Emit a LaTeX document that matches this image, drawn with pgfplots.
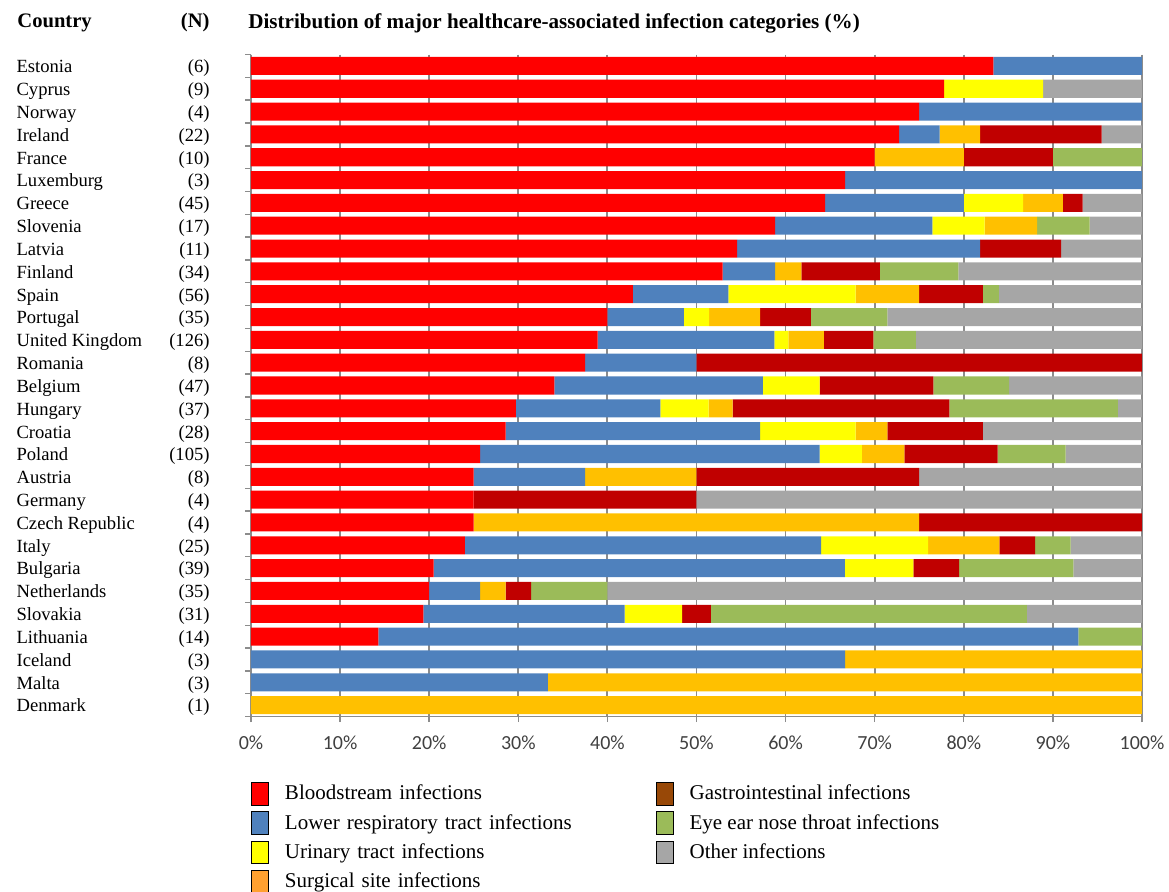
\documentclass[border=0pt]{standalone}
\usepackage{pgfplots}
\pgfplotsset{compat=1.18}
\usepackage{pgfplotstable}
\usepackage{fontspec}
\setmainfont{Liberation Serif}
\newfontfamily\tickfont{Carlito}

\definecolor{cBSI}{HTML}{FF0000}
\definecolor{cLRTI}{HTML}{4F81BD}
\definecolor{cUTI}{HTML}{FFFF00}
\definecolor{cSSI}{HTML}{FFC000}
\definecolor{cGI}{HTML}{C00000}
\definecolor{cEENT}{HTML}{9BBB59}
\definecolor{cOTH}{HTML}{A6A6A6}
\definecolor{lSSI}{HTML}{FFA030}
\definecolor{lGI}{HTML}{984807}
\definecolor{gridc}{HTML}{8C8C8C}

\newcommand{\lab}[2]{\makebox[96.5pt]{#1\hfill#2}}

\pgfplotstableread{
y  bsi   lrti  uti   ssi    gi    eent  oth
0  83.33 16.67 0     0      0     0     0
1  77.78 0     11.11 0      0     0     11.11
2  75    25    0     0      0     0     0
3  72.73 4.55  0     4.55   13.64 0     4.53
4  70    0     0     10     10    10    0
5  66.67 33.33 0     0      0     0     0
6  64.44 15.56 6.67  4.44   2.22  0     6.67
7  58.82 17.65 5.88  5.88   0     5.88  5.89
8  54.55 27.27 0     0      9.09  0     9.09
9  52.94 5.88  0     2.94   8.82  8.82  20.60
10 42.86 10.71 14.29 7.14   7.14  1.79  16.07
11 40    8.57  2.86  5.71   5.71  8.57  28.58
12 38.89 19.84 1.59  3.97   5.56  4.76  25.39
13 37.5  12.5  0     0      50    0     0
14 34.04 23.40 6.38  0      12.77 8.51  14.90
15 29.73 16.22 5.41  2.70   24.32 18.92 2.70
16 28.57 28.57 10.71 3.57   10.71 0     17.87
17 25.71 38.10 4.76  4.76   10.48 7.62  8.57
18 25    12.5  0     12.5   25    0     25
19 25    0     0     0      25    0     50
20 25    0     0     50     25    0     0
21 24    40    12    8      4     4     8
22 20.51 46.15 7.69  0      5.13  12.82 7.70
23 20    5.71  0     2.86   2.86  8.57  60
24 19.35 22.58 6.45  0      3.23  35.48 12.91
25 14.29 78.57 0     0      0     7.14  0
26 0     66.67 0     33.33  0     0     0
27 0     33.33 0     66.67  0     0     0
28 0     0     0     100    0     0     0
}\data

\begin{document}
\begin{tikzpicture}
\useasboundingbox (-125.5pt,-87.25pt) rectangle (459pt,358.25pt);
\begin{axis}[
  at={(0,0)}, anchor=south west,
  scale only axis, width=445.5pt, height=331pt,
  clip=false,
  xbar stacked, bar width=0.79,
  xmin=0, xmax=100, ymin=-0.5, ymax=28.5, y dir=reverse,
  axis lines*=left,
  axis line style={gridc, line width=0.7pt},
  xtick={0,10,...,100},
  xticklabels={0\%,10\%,20\%,30\%,40\%,50\%,60\%,70\%,80\%,90\%,100\%},
  xmajorgrids,
  grid style={gridc, line width=0.9pt},
  tick align=outside, major tick length=2.8pt,
  tick style={gridc, line width=0.7pt},
  xticklabel style={font=\tickfont\fontsize{10}{12}\selectfont, text=black!75, yshift=-3.5pt},
  ytick={-0.5,0.5,...,28.5}, yticklabels={},
  extra y ticks={0,1,...,28},
  extra y tick labels={
    \lab{Estonia}{(6)},\lab{Cyprus}{(9)},\lab{Norway}{(4)},\lab{Ireland}{(22)},
    \lab{France}{(10)},\lab{Luxemburg}{(3)},\lab{Greece}{(45)},\lab{Slovenia}{(17)},
    \lab{Latvia}{(11)},\lab{Finland}{(34)},\lab{Spain}{(56)},\lab{Portugal}{(35)},
    \lab{United Kingdom}{(126)},\lab{Romania}{(8)},\lab{Belgium}{(47)},\lab{Hungary}{(37)},
    \lab{Croatia}{(28)},\lab{Poland}{(105)},\lab{Austria}{(8)},\lab{Germany}{(4)},
    \lab{Czech Republic}{(4)},\lab{Italy}{(25)},\lab{Bulgaria}{(39)},\lab{Netherlands}{(35)},
    \lab{Slovakia}{(31)},\lab{Lithuania}{(14)},\lab{Iceland}{(3)},\lab{Malta}{(3)},\lab{Denmark}{(1)}},
  extra y tick style={major tick length=0pt,
     yticklabel style={anchor=east, inner sep=0pt, xshift=-20.5pt, yshift=-1.2pt,
       font=\fontsize{9.3}{11}\selectfont}},
  title={Distribution of major healthcare-associated infection categories (\%)},
  title style={at={(0,1)}, anchor=west, xshift=-1.5pt, yshift=9.75pt, inner sep=0pt,
    font=\bfseries\fontsize{10.55}{12}\selectfont},
  legbox/.style={legend image code/.code={%
     \draw[##1, draw=black, line width=0.5pt] (0pt,-5.6pt) rectangle (8.3pt,5.6pt);}},
  legend columns=2,
  legend cell align=left,
  legend style={at={(0,0)}, anchor=north west, yshift=-32pt,
    draw=none, fill=none, inner sep=0pt, row sep=1.8pt,
    font=\fontsize{10.5}{12}\selectfont,
    /tikz/every odd column/.append style={column sep=6pt},
    /tikz/column 2/.append style={text width=183.5pt}},
]
\addplot[fill=cBSI,  draw=none, forget plot] table[x=bsi,  y=y] {\data};
\addplot[fill=cLRTI, draw=none, forget plot] table[x=lrti, y=y] {\data};
\addplot[fill=cUTI,  draw=none, forget plot] table[x=uti,  y=y] {\data};
\addplot[fill=cSSI,  draw=none, forget plot] table[x=ssi,  y=y] {\data};
\addplot[fill=cGI,   draw=none, forget plot] table[x=gi,   y=y] {\data};
\addplot[fill=cEENT, draw=none, forget plot] table[x=eent, y=y] {\data};
\addplot[fill=cOTH,  draw=none, forget plot] table[x=oth,  y=y] {\data};

\addlegendimage{legbox, fill=cBSI}\addlegendentry{Bloodstream infections}
\addlegendimage{legbox, fill=lGI}\addlegendentry{Gastrointestinal infections}
\addlegendimage{legbox, fill=cLRTI}\addlegendentry{Lower respiratory tract infections}
\addlegendimage{legbox, fill=cEENT}\addlegendentry{Eye ear nose throat infections}
\addlegendimage{legbox, fill=cUTI}\addlegendentry{Urinary tract infections}
\addlegendimage{legbox, fill=cOTH}\addlegendentry{Other infections}
\addlegendimage{legbox, fill=lSSI}\addlegendentry{Surgical site infections}

\node[anchor=west, inner sep=0pt, xshift=-117pt, yshift=15.75pt,
  font=\bfseries\fontsize{10.3}{12}\selectfont] at (axis description cs:0,1) {Country};
\node[anchor=east, inner sep=0pt, xshift=-20.5pt, yshift=15.75pt,
  font=\bfseries\fontsize{10.3}{12}\selectfont] at (axis description cs:0,1) {(N)};
\end{axis}
\end{tikzpicture}
\end{document}
